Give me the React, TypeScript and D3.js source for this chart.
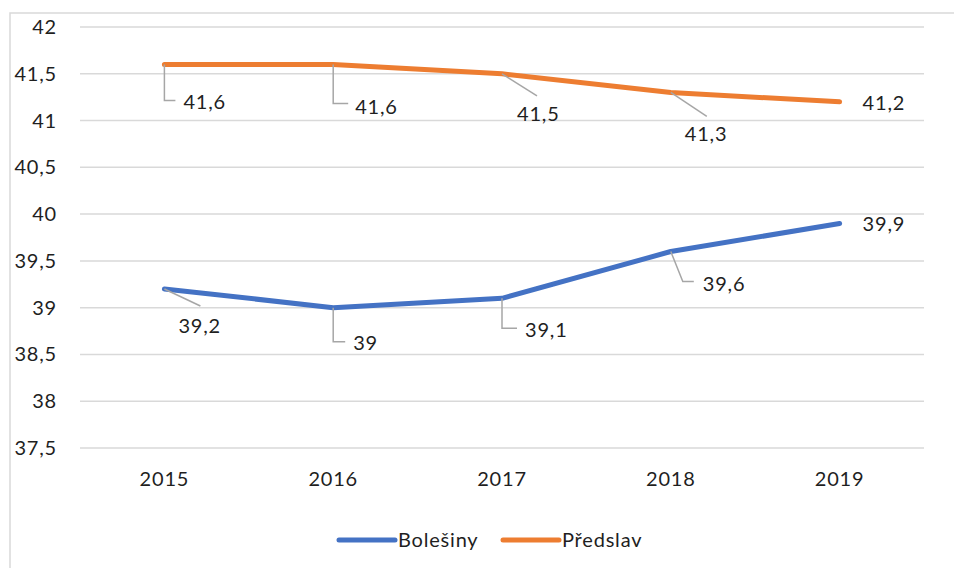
import React, { useEffect, useRef } from 'react';
import * as d3 from 'd3';

const years = ['2015', '2016', '2017', '2018', '2019'];
const bolesiny = [39.2, 39.0, 39.1, 39.6, 39.9];
const predslav = [41.6, 41.6, 41.5, 41.3, 41.2];
const yTicks = [37.5, 38, 38.5, 39, 39.5, 40, 40.5, 41, 41.5, 42];

// label placement per point: leader kind + label offset from the point
// 'elbow' = down then right, 'diag' = diagonal, 'none' = no leader
const predslavLabels = [
  { kind: 'elbow', down: 36, right: 11, tx: 19, ty: 38 },
  { kind: 'elbow', down: 39, right: 15, tx: 22, ty: 43 },
  { kind: 'diag', lx: 35, ly: 22, tx: 15, ty: 40 },
  { kind: 'diag', lx: 36, ly: 24, tx: 14, ty: 42 },
  { kind: 'none', tx: 23, ty: 1 },
];
const bolesinyLabels = [
  { kind: 'diag', lx: 36, ly: 17, tx: 14, ty: 37 },
  { kind: 'elbow', down: 34, right: 12, tx: 20, ty: 35 },
  { kind: 'elbow', down: 30, right: 15, tx: 23, ty: 32 },
  { kind: 'diagElbow', lx: 12, ly: 30, right: 11, tx: 32, ty: 32 },
  { kind: 'none', tx: 23, ty: 1 },
];

const W = 954;
const H = 568;
const FONT = 'Lato, "Open Sans", sans-serif';
const BLUE = '#4472C4';
const ORANGE = '#ED7D31';
const TEXT = '#1f1f1f';

const App = () => {
  const svgRef = useRef(null);

  useEffect(() => {
    const svg = d3.select(svgRef.current);
    svg.selectAll('*').remove();

    const plot = { left: 80, right: 924, top: 27, bottom: 448 };

    // chart area border (cropped at right and bottom)
    svg.append('rect')
      .attr('x', 10)
      .attr('y', 13)
      .attr('width', W + 20)
      .attr('height', H + 20)
      .attr('fill', '#fff')
      .attr('stroke', '#D9D9D9')
      .attr('stroke-width', 1.5);

    const x = d3.scalePoint()
      .domain(years)
      .range([plot.left, plot.right])
      .padding(0.5);

    const y = d3.scaleLinear()
      .domain([37.5, 42])
      .range([plot.bottom, plot.top]);

    // gridlines
    svg.append('g')
      .selectAll('line')
      .data(yTicks)
      .join('line')
      .attr('x1', plot.left)
      .attr('x2', plot.right)
      .attr('y1', d => y(d))
      .attr('y2', d => y(d))
      .attr('stroke', '#D9D9D9')
      .attr('stroke-width', 1.5);

    const fmt = (v) => String(v).replace('.', ',');

    const styleText = (sel) => sel
      .attr('font-family', FONT)
      .attr('font-size', 20)
      .attr('letter-spacing', 0.8)
      .attr('fill', TEXT);

    // y tick labels
    svg.append('g')
      .selectAll('text')
      .data(yTicks)
      .join('text')
      .attr('x', 57)
      .attr('y', d => y(d))
      .attr('dy', '0.35em')
      .attr('text-anchor', 'end')
      .call(styleText)
      .text(d => fmt(d));

    // x tick labels
    svg.append('g')
      .selectAll('text')
      .data(years)
      .join('text')
      .attr('x', d => x(d))
      .attr('y', 486)
      .attr('text-anchor', 'middle')
      .call(styleText)
      .text(d => d);

    const line = d3.line()
      .x((d, i) => x(years[i]))
      .y(d => y(d));

    const series = [
      { name: 'Bolešiny', values: bolesiny, color: BLUE, labels: bolesinyLabels },
      { name: 'Předslav', values: predslav, color: ORANGE, labels: predslavLabels },
    ];

    series.forEach(s => {
      svg.append('path')
        .datum(s.values)
        .attr('d', line)
        .attr('fill', 'none')
        .attr('stroke', s.color)
        .attr('stroke-width', 5)
        .attr('stroke-linecap', 'round')
        .attr('stroke-linejoin', 'round');
    });

    // data labels with leader lines
    series.forEach(s => {
      s.values.forEach((v, i) => {
        const px = x(years[i]);
        const py = y(v);
        const lab = s.labels[i];
        let pts = null;
        if (lab.kind === 'elbow') {
          pts = [[px, py], [px, py + lab.down], [px + lab.right, py + lab.down]];
        } else if (lab.kind === 'diag') {
          pts = [[px, py], [px + lab.lx, py + lab.ly]];
        } else if (lab.kind === 'diagElbow') {
          pts = [[px, py], [px + lab.lx, py + lab.ly], [px + lab.lx + lab.right, py + lab.ly]];
        }
        if (pts) {
          svg.append('path')
            .attr('d', d3.line()(pts))
            .attr('fill', 'none')
            .attr('stroke', '#A6A6A6')
            .attr('stroke-width', 1.5);
        }
        svg.append('text')
          .attr('x', px + lab.tx)
          .attr('y', py + lab.ty)
          .attr('dy', '0.35em')
          .call(styleText)
          .text(fmt(v));
      });
    });

    // legend
    const legend = svg.append('g').attr('transform', 'translate(0,540)');
    const legendX = [339, 503];
    series.forEach((s, i) => {
      legend.append('line')
        .attr('x1', legendX[i])
        .attr('x2', legendX[i] + 56)
        .attr('y1', 0)
        .attr('y2', 0)
        .attr('stroke', s.color)
        .attr('stroke-width', 5)
        .attr('stroke-linecap', 'round');
      legend.append('text')
        .attr('x', legendX[i] + 59)
        .attr('y', 0)
        .attr('dy', '0.35em')
        .call(styleText)
        .text(s.name);
    });
  }, []);

  return (
    <div style={{ position: 'absolute', left: 0, top: 0, width: W, height: H, overflow: 'hidden', background: '#fff' }}>
      <svg ref={svgRef} width={W} height={H}></svg>
    </div>
  );
};

export default App;
